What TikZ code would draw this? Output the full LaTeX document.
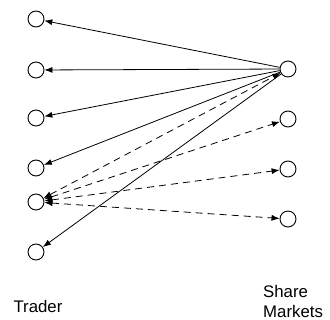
\documentclass[tikz,border=0pt]{standalone}
\usepackage{fontspec}
\setmainfont{Liberation Sans}
\usetikzlibrary{arrows.meta}
\begin{document}
\begin{tikzpicture}[x=1pt,y=-1pt,
  dot/.style={circle,draw,line width=0.9pt,minimum size=16pt,inner sep=0pt},
  solidarrow/.style={line width=0.8pt,-{Latex[length=8pt,width=6pt]}},
  dasharrow/.style={line width=0.8pt,dash pattern=on 7pt off 5pt,{Latex[length=8pt,width=6pt]}-{Latex[length=8pt,width=6pt]}},
  lbl/.style={font=\fontsize{16.8}{20}\selectfont,inner sep=0pt}]
\useasboundingbox (0,0) rectangle (330,320);
\node[dot] (l1) at (36,19) {};
\node[dot] (l2) at (36,70) {};
\node[dot] (l3) at (36,118) {};
\node[dot] (l4) at (36,168) {};
\node[dot] (l5) at (36,202) {};
\node[dot] (l6) at (36,252) {};
\node[dot] (r1) at (288,69) {};
\node[dot] (r2) at (288,119) {};
\node[dot] (r3) at (288,169) {};
\node[dot] (r4) at (288,219) {};
\foreach \t in {l1,l2,l3,l4,l6}{\draw[solidarrow] (r1) -- (\t);}
\foreach \t in {r1,r2,r3,r4}{\draw[dasharrow] (l5) -- (\t);}
\node[lbl] (trader) at (38,306) {Trader};
\node[lbl,anchor=west,align=left] (share) at (263,301) {Share\\Markets};
\end{tikzpicture}
\end{document}
